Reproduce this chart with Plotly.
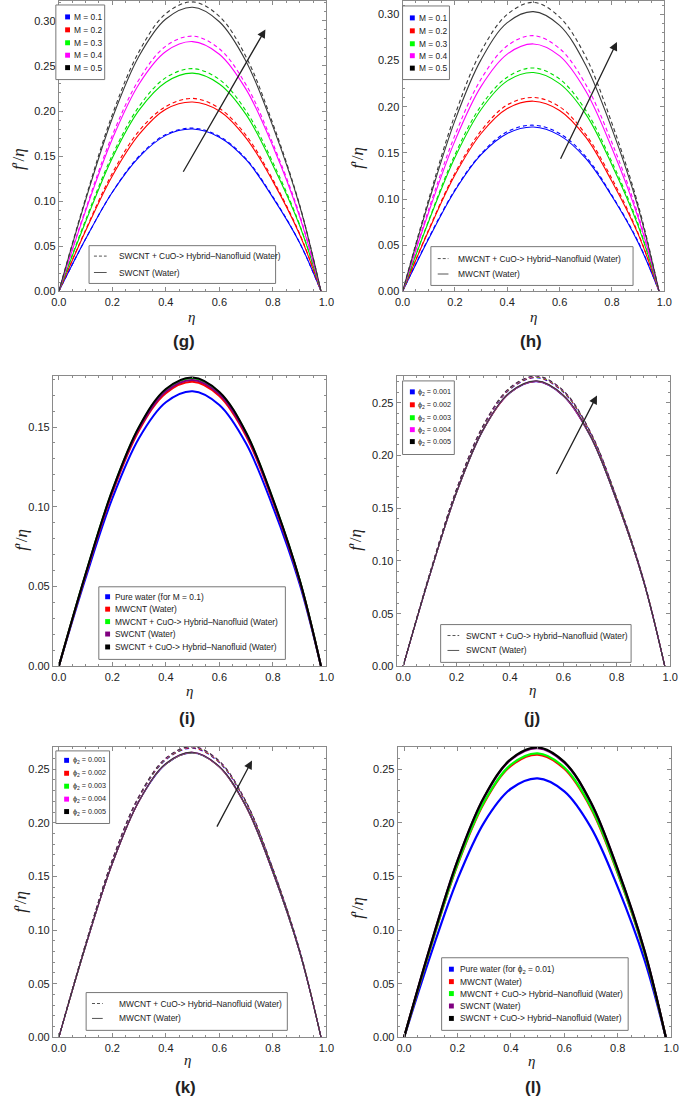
import plotly.graph_objects as go

W, H = 685, 1103

# eta grid used for every curve
ETA = [0.0, 0.1, 0.2, 0.3, 0.4, 0.5, 0.6, 0.7, 0.8, 0.9, 0.98]

# (g) SWCNT, M = 0.1 ... 0.5
G_HYBRID = [
    [0, 0.058, 0.110, 0.150, 0.174, 0.181, 0.172, 0.147, 0.105, 0.054, 0],
    [0, 0.068, 0.131, 0.178, 0.205, 0.214, 0.203, 0.173, 0.124, 0.064, 0],
    [0, 0.079, 0.151, 0.205, 0.237, 0.247, 0.235, 0.200, 0.143, 0.074, 0],
    [0, 0.091, 0.173, 0.235, 0.272, 0.283, 0.269, 0.229, 0.164, 0.085, 0],
    [0, 0.103, 0.196, 0.266, 0.308, 0.321, 0.305, 0.260, 0.186, 0.096, 0],
]
G_BASE = [
    [0, 0.058, 0.110, 0.149, 0.173, 0.180, 0.171, 0.146, 0.104, 0.054, 0],
    [0, 0.067, 0.128, 0.174, 0.202, 0.210, 0.200, 0.170, 0.122, 0.063, 0],
    [0, 0.077, 0.148, 0.201, 0.232, 0.242, 0.230, 0.196, 0.140, 0.073, 0],
    [0, 0.089, 0.169, 0.230, 0.266, 0.277, 0.263, 0.224, 0.161, 0.083, 0],
    [0, 0.101, 0.192, 0.261, 0.302, 0.315, 0.299, 0.255, 0.183, 0.095, 0],
]

# (h) MWCNT, M = 0.1 ... 0.5
H_HYBRID = [
    [0, 0.058, 0.110, 0.149, 0.173, 0.180, 0.171, 0.146, 0.104, 0.054, 0],
    [0, 0.067, 0.128, 0.174, 0.202, 0.210, 0.200, 0.170, 0.122, 0.063, 0],
    [0, 0.077, 0.148, 0.201, 0.232, 0.242, 0.230, 0.196, 0.140, 0.073, 0],
    [0, 0.089, 0.169, 0.230, 0.266, 0.277, 0.263, 0.224, 0.161, 0.083, 0],
    [0, 0.100, 0.191, 0.260, 0.300, 0.313, 0.297, 0.254, 0.182, 0.094, 0],
]
H_BASE = [
    [0, 0.057, 0.109, 0.148, 0.171, 0.178, 0.169, 0.144, 0.103, 0.053, 0],
    [0, 0.066, 0.126, 0.171, 0.198, 0.206, 0.196, 0.167, 0.119, 0.062, 0],
    [0, 0.076, 0.145, 0.197, 0.228, 0.237, 0.225, 0.192, 0.137, 0.071, 0],
    [0, 0.086, 0.163, 0.222, 0.257, 0.268, 0.255, 0.217, 0.155, 0.080, 0],
    [0, 0.097, 0.185, 0.251, 0.291, 0.303, 0.288, 0.245, 0.176, 0.091, 0],
]

# (i) fluids compared, M = 0.1
I_FLUIDS = [
    [0, 0.0552, 0.1052, 0.1431, 0.1655, 0.1724, 0.1638, 0.1396, 0.1000, 0.0517, 0],
    [0, 0.0571, 0.1088, 0.1480, 0.1712, 0.1783, 0.1694, 0.1444, 0.1034, 0.0535, 0],
    [0, 0.0578, 0.1102, 0.1499, 0.1734, 0.1806, 0.1716, 0.1463, 0.1047, 0.0542, 0],
    [0, 0.0574, 0.1095, 0.1490, 0.1723, 0.1795, 0.1705, 0.1454, 0.1041, 0.0539, 0],
    [0, 0.0579, 0.1104, 0.1502, 0.1738, 0.1810, 0.1720, 0.1466, 0.1050, 0.0543, 0],
]

# (j) SWCNT, phi2 = 0.001 ... 0.005
J_HYBRID = [
    [0, 0.0876, 0.1670, 0.2273, 0.2628, 0.2738, 0.2601, 0.2218, 0.1588, 0.0821, 0],
    [0, 0.0877, 0.1673, 0.2276, 0.2632, 0.2742, 0.2605, 0.2221, 0.1590, 0.0823, 0],
    [0, 0.0879, 0.1675, 0.2279, 0.2636, 0.2746, 0.2609, 0.2224, 0.1593, 0.0824, 0],
    [0, 0.0880, 0.1678, 0.2283, 0.2640, 0.2750, 0.2613, 0.2228, 0.1595, 0.0825, 0],
    [0, 0.0881, 0.1680, 0.2286, 0.2644, 0.2754, 0.2616, 0.2231, 0.1597, 0.0826, 0],
]
J_BASE = [
    [0, 0.0864, 0.1647, 0.2241, 0.2592, 0.2700, 0.2565, 0.2187, 0.1566, 0.0810, 0],
    [0, 0.0865, 0.1648, 0.2243, 0.2594, 0.2702, 0.2567, 0.2189, 0.1567, 0.0811, 0],
    [0, 0.0865, 0.1649, 0.2244, 0.2596, 0.2704, 0.2569, 0.2190, 0.1568, 0.0811, 0],
    [0, 0.0866, 0.1651, 0.2246, 0.2598, 0.2706, 0.2571, 0.2192, 0.1569, 0.0812, 0],
    [0, 0.0867, 0.1652, 0.2248, 0.2600, 0.2708, 0.2573, 0.2193, 0.1571, 0.0812, 0],
]

# (k) MWCNT, phi2 = 0.001 ... 0.005
K_HYBRID = [
    [0, 0.0862, 0.1644, 0.2237, 0.2587, 0.2695, 0.2560, 0.2183, 0.1563, 0.0809, 0],
    [0, 0.0864, 0.1646, 0.2240, 0.2591, 0.2699, 0.2564, 0.2186, 0.1565, 0.0810, 0],
    [0, 0.0865, 0.1649, 0.2243, 0.2595, 0.2703, 0.2568, 0.2189, 0.1568, 0.0811, 0],
    [0, 0.0866, 0.1651, 0.2247, 0.2599, 0.2707, 0.2572, 0.2193, 0.1570, 0.0812, 0],
    [0, 0.0868, 0.1654, 0.2250, 0.2603, 0.2711, 0.2575, 0.2196, 0.1572, 0.0813, 0],
]
K_BASE = [
    [0, 0.0848, 0.1617, 0.2200, 0.2544, 0.2650, 0.2518, 0.2147, 0.1537, 0.0795, 0],
    [0, 0.0849, 0.1618, 0.2201, 0.2546, 0.2652, 0.2519, 0.2148, 0.1538, 0.0796, 0],
    [0, 0.0849, 0.1619, 0.2203, 0.2548, 0.2654, 0.2521, 0.2150, 0.1539, 0.0796, 0],
    [0, 0.0850, 0.1620, 0.2204, 0.2550, 0.2656, 0.2523, 0.2151, 0.1540, 0.0797, 0],
    [0, 0.0851, 0.1621, 0.2206, 0.2552, 0.2658, 0.2525, 0.2153, 0.1542, 0.0797, 0],
]

# (l) fluids compared, phi2 = 0.01
L_FLUIDS = [
    [0, 0.0772, 0.1473, 0.2004, 0.2317, 0.2414, 0.2293, 0.1955, 0.1400, 0.0724, 0],
    [0, 0.0843, 0.1607, 0.2187, 0.2530, 0.2635, 0.2503, 0.2134, 0.1528, 0.0791, 0],
    [0, 0.0847, 0.1615, 0.2197, 0.2541, 0.2647, 0.2515, 0.2144, 0.1535, 0.0794, 0],
    [0, 0.0863, 0.1645, 0.2238, 0.2588, 0.2696, 0.2561, 0.2184, 0.1564, 0.0809, 0],
    [0, 0.0865, 0.1648, 0.2243, 0.2594, 0.2702, 0.2567, 0.2189, 0.1567, 0.0811, 0],
]

M_LABELS = ["M = 0.1", "M = 0.2", "M = 0.3", "M = 0.4", "M = 0.5"]
PHI_LABELS = ["ϕ<sub>2</sub> = 0.001", "ϕ<sub>2</sub> = 0.002", "ϕ<sub>2</sub> = 0.003",
              "ϕ<sub>2</sub> = 0.004", "ϕ<sub>2</sub> = 0.005"]
FLUID_LABELS_I = ["Pure water (for M = 0.1)", "MWCNT (Water)",
                  "MWCNT + CuO-> Hybrid–Nanofluid (Water)", "SWCNT (Water)",
                  "SWCNT + CuO-> Hybrid–Nanofluid (Water)"]
FLUID_LABELS_L = ["Pure water (for ϕ<sub>2</sub> = 0.01)", "MWCNT (Water)",
                  "MWCNT + CuO-> Hybrid–Nanofluid (Water)", "SWCNT (Water)",
                  "SWCNT + CuO-> Hybrid–Nanofluid (Water)"]
SW_STYLE = ["SWCNT + CuO-> Hybrid–Nanofluid (Water)", "SWCNT (Water)"]
MW_STYLE = ["MWCNT + CuO-> Hybrid–Nanofluid (Water)", "MWCNT (Water)"]

PARAM_COLORS = ["#0000FF", "#FF0000", "#00E000", "#FF00FF", "#3a3a3a"]
FLUID_COLORS = ["#0000FF", "#FF0000", "#00FF00", "#800080", "#000000"]
SQ_COLORS = ["#0000FF", "#FF0000", "#00FF00", "#FF00FF", "#000000"]

FONT = "Liberation Sans"
SERIF = "Liberation Serif"
FRAME = "#8a8a8a"


def px(x):
    return x / W


def py(y):
    return 1 - y / H


fig = go.Figure()

# panel frames in pixels: (left, top, right, bottom), x range, y range
panels = [
    ((52, 1, 326, 293), [0, 1], [0, 0.322]),
    ((404, 1, 672, 293), [0, 1], [0, 0.3145]),
    ((46, 378, 326, 670), [-0.022, 1], [0, 0.182]),
    ((398, 378, 678, 670), [-0.024, 1], [0, 0.2755]),
    ((46, 751, 326, 1043), [-0.022, 1], [0, 0.2707]),
    ((399, 751, 679, 1043), [-0.024, 1], [0, 0.2707]),
]

for k, (box, xr, yr) in enumerate(panels):
    n = "" if k == 0 else str(k + 1)
    common = dict(showline=True, linecolor=FRAME, linewidth=1, mirror="ticks",
                  ticks="inside", ticklen=4, tickcolor=FRAME, showgrid=False,
                  zeroline=False,
                  tickfont=dict(family=FONT, size=11, color="#222"))
    fig.layout["xaxis" + n] = dict(
        common, domain=[px(box[0]), px(box[2])], range=xr, anchor="y" + n,
        tick0=0, dtick=0.2, tickformat=".1f",
        minor=dict(ticks="inside", ticklen=2, tickcolor=FRAME, dtick=0.05, tick0=0))
    fig.layout["yaxis" + n] = dict(
        common, domain=[py(box[3]), py(box[1])], range=yr, anchor="x" + n,
        tick0=0, dtick=0.05, tickformat=".2f",
        minor=dict(ticks="inside", ticklen=2, tickcolor=FRAME, dtick=0.01, tick0=0))


def ax(k):
    n = "" if k == 0 else str(k + 1)
    return "x" + n, "y" + n


def add_pairs(k, hybrid, base):
    xa, ya = ax(k)
    for i in range(5):
        fig.add_trace(go.Scatter(x=ETA, y=hybrid[i], mode="lines", line_shape="spline",
                                 line=dict(color=PARAM_COLORS[i], width=1.1, dash="4px,3px"),
                                 xaxis=xa, yaxis=ya, showlegend=False))
        fig.add_trace(go.Scatter(x=ETA, y=base[i], mode="lines", line_shape="spline",
                                 line=dict(color=PARAM_COLORS[i], width=1.1),
                                 xaxis=xa, yaxis=ya, showlegend=False))


def add_fluids(k, fluids, width):
    xa, ya = ax(k)
    for i in range(5):
        fig.add_trace(go.Scatter(x=ETA, y=fluids[i], mode="lines", line_shape="spline",
                                 line=dict(color=FLUID_COLORS[i], width=width),
                                 xaxis=xa, yaxis=ya, showlegend=False))


add_pairs(0, G_HYBRID, G_BASE)
add_pairs(1, H_HYBRID, H_BASE)
add_fluids(2, I_FLUIDS, 2)
add_pairs(3, J_HYBRID, J_BASE)
add_pairs(4, K_HYBRID, K_BASE)
add_fluids(5, L_FLUIDS, 2.2)

shapes = []
annotations = []


def note(x, y, s, size, family=FONT, anchor="center", **kw):
    annotations.append(dict(x=px(x), y=py(y), xref="paper", yref="paper", text=s,
                            showarrow=False, xanchor=anchor, yanchor="middle",
                            font=dict(family=family, size=size, color="#222"), **kw))


def legend_frame(box):
    shapes.append(dict(type="rect", xref="paper", yref="paper",
                       x0=px(box[0]), y0=py(box[1]), x1=px(box[2]), y1=py(box[3]),
                       line=dict(color="#777", width=1), fillcolor="white"))


def square_legend(box, labels, colors, rows, sq_x, tx, size=8.4):
    legend_frame(box)
    for lab, c, y in zip(labels, colors, rows):
        shapes.append(dict(type="rect", xref="paper", yref="paper",
                           x0=px(sq_x - 2.5), x1=px(sq_x + 2.5), y0=py(y + 2.5), y1=py(y - 2.5),
                           line=dict(width=0), fillcolor=c))
        note(tx, y, lab, size, anchor="left")


def style_legend(box, labels, rows, lx0, lx1, tx):
    legend_frame(box)
    for lab, dash, y in zip(labels, ["3px,2px", "solid"], rows):
        shapes.append(dict(type="line", xref="paper", yref="paper",
                           x0=px(lx0), x1=px(lx1), y0=py(y), y1=py(y),
                           line=dict(color="#555", width=1, dash=dash)))
        note(tx, y, lab, 8.4, anchor="left")


square_legend((49, 5, 99, 80), M_LABELS, SQ_COLORS, [17, 30, 43, 55.5, 68], 61, 66)
style_legend((83, 247, 274, 285), SW_STYLE, [257.5, 274], 88, 101, 112)
square_legend((404, 6, 452, 80), M_LABELS, SQ_COLORS, [18, 31, 44, 56, 68.5], 414, 419)
style_legend((433, 248, 640, 287), MW_STYLE, [260, 275.5], 440, 451, 459)
square_legend((93, 590, 284, 663), FLUID_LABELS_I, FLUID_COLORS,
              [600, 612.5, 625, 637.5, 650.5], 102, 108)
square_legend((404, 383, 457, 457), PHI_LABELS, SQ_COLORS,
              [394, 407, 420, 432, 444], 414, 418, size=7.2)
style_legend((443, 628, 638, 666), SW_STYLE, [639, 654], 450, 462, 467)
square_legend((49, 755, 104, 828), PHI_LABELS, SQ_COLORS,
              [764.5, 777.5, 790.5, 803.5, 816], 60, 64, size=7.2)
style_legend((80, 998, 286, 1036), MW_STYLE, [1009, 1024], 86, 97, 112)
square_legend((444, 963, 635, 1036), FLUID_LABELS_L, FLUID_COLORS,
              [974.5, 987, 999, 1011.5, 1024], 454, 461)

# axis titles and panel letters
eta_pos = [(188, 319), (538, 319), (186, 695), (537, 694), (184, 1066), (536, 1067)]
f_pos = [(10, 160), (357, 159), (13, 543), (355, 543), (12, 907), (357, 913)]
tag_pos = [(180, 343), (536, 343), (183, 722), (537, 722), (182, 1093), (538, 1093)]
tags = ["(g)", "(h)", "(i)", "(j)", "(k)", "(l)"]
for (ex, ey), (fx, fy), (tx, ty), tag in zip(eta_pos, f_pos, tag_pos, tags):
    note(ex, ey, "<i>η</i>", 15, family=SERIF)
    note(fx, fy, "<i>f</i>′/<i>η</i>", 17, family=SERIF, textangle=-90)
    note(tx, ty, "<b>" + tag + "</b>", 17)

# trend arrows: (panel, head x, head y, tail x, tail y)
arrows = [(0, 0.772, 0.2905, 0.462, 0.131),
          (1, 0.819, 0.270, 0.601, 0.142),
          (3, 0.726, 0.257, 0.571, 0.181),
          (4, 0.722, 0.258, 0.588, 0.195)]
for k, hx, hy, tx_, ty_ in arrows:
    xa, ya = ax(k)
    annotations.append(dict(x=hx, y=hy, ax=tx_, ay=ty_, xref=xa, yref=ya,
                            axref=xa, ayref=ya, text="", showarrow=True,
                            arrowhead=2, arrowsize=1.3, arrowwidth=1.3,
                            arrowcolor="#222"))

fig.update_layout(width=W, height=H, margin=dict(l=0, r=0, t=0, b=0),
                  paper_bgcolor="white", plot_bgcolor="white",
                  showlegend=False, shapes=shapes, annotations=annotations)

# the page's default body margin would push the figure 8px off the window
fig.write_html("out.html", config={"displayModeBar": False},
               post_script="document.body.style.margin = '0';")
